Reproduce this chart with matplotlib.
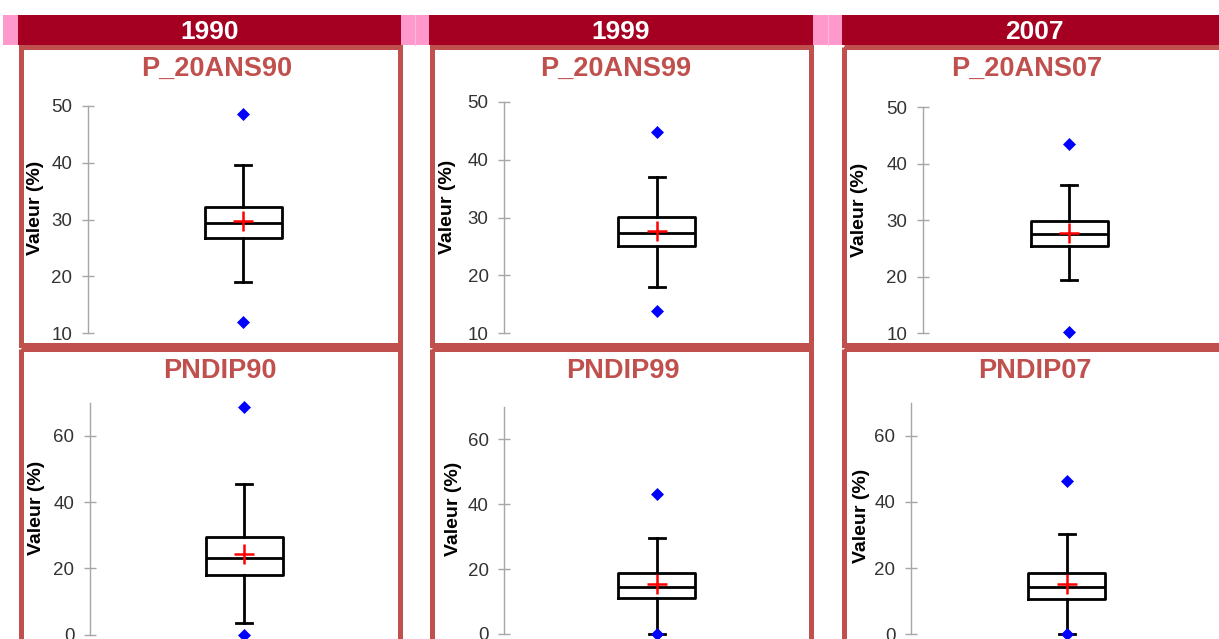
import matplotlib
matplotlib.use('Agg')
import matplotlib.pyplot as plt
from matplotlib.patches import Rectangle

plt.rcParams['font.family'] = ['Liberation Sans', 'DejaVu Sans']

# données
years = ['1990', '1999', '2007']

p20_names = ['P_20ANS90', 'P_20ANS99', 'P_20ANS07']
p20_whislo = [19.0, 18.0, 19.4]
p20_q1 = [26.7, 25.1, 25.5]
p20_med = [29.4, 27.4, 27.6]
p20_q3 = [32.2, 30.1, 29.9]
p20_whishi = [39.7, 37.0, 36.3]
p20_mean = [29.7, 27.7, 27.8]
p20_fliers = [[12.0, 48.6], [13.8, 44.7], [10.3, 43.4]]

pndip_names = ['PNDIP90', 'PNDIP99', 'PNDIP07']
pndip_whislo = [3.6, 0.0, 0.0]
pndip_q1 = [18.1, 11.2, 10.6]
pndip_med = [23.2, 14.4, 14.2]
pndip_q3 = [29.4, 18.7, 18.5]
pndip_whishi = [45.6, 29.7, 30.2]
pndip_mean = [24.2, 15.5, 15.3]
pndip_fliers = [[0.0, 68.8], [0.0, 43.1], [0.0, 46.4]]

p20_ticks = [10, 20, 30, 40, 50]
pndip_ticks = [0, 20, 40, 60]

W, H = 1219, 639
fig = plt.figure(figsize=(W / 100, H / 100), dpi=100)


def px_rect(x0, y0, x1, y1):
    return [x0 / W, 1 - y1 / H, (x1 - x0) / W, (y1 - y0) / H]


# positions en pixels : axe gauche, centre de la boîte, haut, bas
p20_layout = [(88, 243, 106, 333.3), (504.3, 656.7, 101.7, 333.3), (922.7, 1069, 107, 333.3)]
pndip_layout = [(90, 244.3, 402.7, 634.7), (504.3, 656.7, 406.7, 634), (911, 1066.7, 402.7, 634.3)]


def draw_box(layout, lo, hi, ticks, whislo, q1, med, q3, whishi, mean, fliers):
    spine_x, cx, top, bottom = layout
    right = cx + (cx - spine_x)
    ax = fig.add_axes(px_rect(spine_x, top, right, bottom))
    wpx = right - spine_x
    stats = [dict(whislo=whislo, q1=q1, med=med, q3=q3, whishi=whishi, mean=mean, fliers=fliers)]
    line = dict(color='black', linewidth=2.0)
    res = ax.bxp(stats, positions=[0.5], widths=[77 / wpx], capwidths=[16 / wpx],
                 showmeans=True, manage_ticks=False,
                 boxprops=line, medianprops=line, whiskerprops=line, capprops=line,
                 meanprops=dict(marker='+', markeredgecolor='red', markersize=15, markeredgewidth=1.8),
                 flierprops=dict(marker='D', markerfacecolor='blue', markeredgecolor='blue',
                                 markersize=5.8, markeredgewidth=0.5))
    for arts in res.values():
        for a in arts:
            a.set_clip_on(False)
    ax.set_xlim(0, 1)
    ax.set_ylim(lo, hi)
    for s in ['top', 'right', 'bottom']:
        ax.spines[s].set_visible(False)
    ax.spines['left'].set_color('#a6a6a6')
    ax.spines['left'].set_linewidth(1)
    ax.set_xticks([])
    ax.set_yticks(ticks)
    ax.tick_params(axis='y', direction='inout', length=8.6, width=1, color='#a6a6a6',
                   labelsize=13.5, labelcolor='#333333', pad=7.0)
    ax.patch.set_visible(False)
    return ax


for i in range(3):
    draw_box(p20_layout[i], 10, 50, p20_ticks, p20_whislo[i], p20_q1[i], p20_med[i],
             p20_q3[i], p20_whishi[i], p20_mean[i], p20_fliers[i])
    draw_box(pndip_layout[i], 0, 70, pndip_ticks, pndip_whislo[i], pndip_q1[i], pndip_med[i],
             pndip_q3[i], pndip_whishi[i], pndip_mean[i], pndip_fliers[i])

# cadre, bandeaux et textes en coordonnées pixels
ov = fig.add_axes([0, 0, 1, 1], zorder=10)
ov.set_xlim(0, W)
ov.set_ylim(H, 0)
ov.axis('off')
ov.patch.set_visible(False)

dark_red = '#a50021'
pink = '#ff99cc'
frame_red = '#c0504d'

for x0, x1 in [(3, 18), (401, 429), (813, 842)]:
    ov.add_patch(Rectangle((x0, 15), x1 - x0, 30, facecolor=pink, edgecolor='none'))
for xm in [415, 827.5]:
    ov.plot([xm, xm], [15, 45], color='#ffb8dc', lw=0.8)

header_x = [(18, 401), (429, 813), (842, 1219)]
header_cx = [209.5, 621, 1034]
frame_x = [(20.5, 399.5), (431.5, 810.5), (844, 1223)]
for i, (x0, x1) in enumerate(header_x):
    ov.add_patch(Rectangle((x0, 15), x1 - x0, 30, facecolor=dark_red, edgecolor='none'))
    ov.text(header_cx[i], 39.3, years[i], color='white', fontsize=19,
            fontweight='bold', ha='center', va='baseline')

for fx0, fx1 in frame_x:
    ov.add_patch(Rectangle((fx0, 47), fx1 - fx0, 344.5 - 47, fill=False,
                           edgecolor=frame_red, linewidth=3.6))
    ov.add_patch(Rectangle((fx0, 348.5), fx1 - fx0, 460, fill=False,
                           edgecolor=frame_red, linewidth=3.6))

p20_title_x = [217, 616, 1027]
pndip_title_x = [219.5, 623, 1035]
for i in range(3):
    ov.text(p20_title_x[i], 76, p20_names[i], color=frame_red, fontsize=19.5,
            fontweight='bold', ha='center', va='baseline')
    ov.text(pndip_title_x[i], 378.3, pndip_names[i], color=frame_red, fontsize=19.5,
            fontweight='bold', ha='center', va='baseline')

ylab_pos = [(36, 207.5), (448, 206.7), (860, 210), (36.7, 508), (453.5, 509), (862, 515.8)]
for x, y in ylab_pos:
    ov.text(x, y, 'Valeur (%)', rotation=90, fontsize=14, fontweight='bold',
            ha='center', va='center', color='black')

fig.savefig('out.png', dpi=100)
